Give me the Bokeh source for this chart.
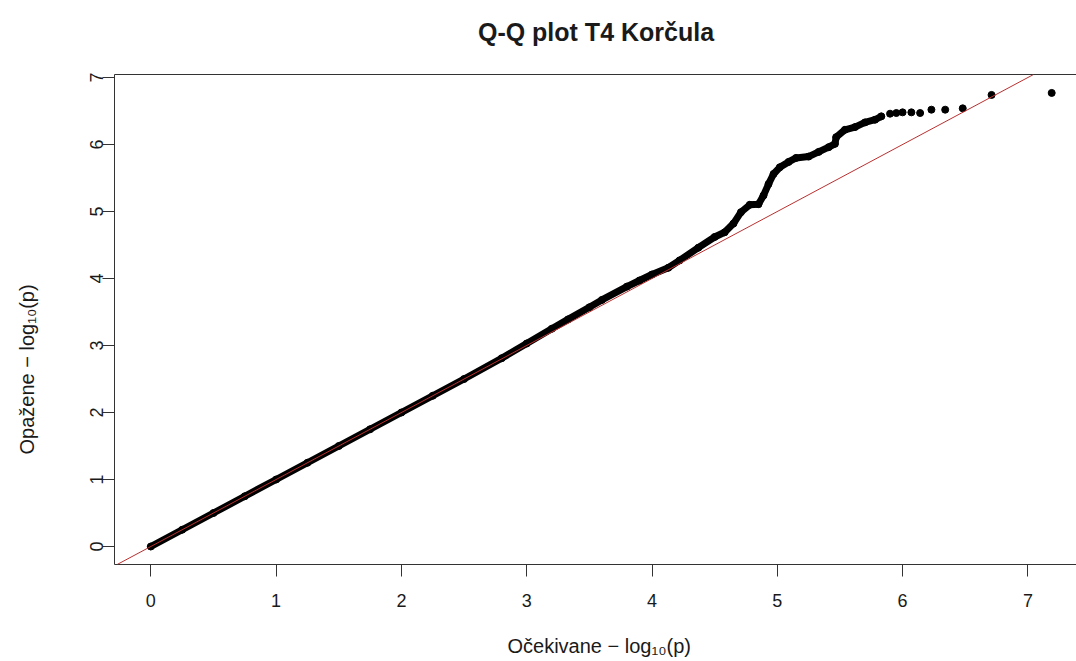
from bokeh.plotting import figure
from bokeh.models import (Slope, Title, FixedTicker, LinearAxis, Range1d,
                          ColumnDataSource)
from bokeh.embed import file_html
from bokeh.resources import INLINE

expected = [0.00, 0.25, 0.50, 0.75, 1.00, 1.25, 1.50, 1.75, 2.00, 2.25, 2.50,
            2.80, 3.00, 3.20, 3.33, 3.50, 3.60, 3.80, 3.90, 4.00, 4.13, 4.22,
            4.37, 4.50, 4.58, 4.65, 4.71, 4.78, 4.85, 4.89, 4.93, 4.97, 5.02,
            5.09, 5.15, 5.25, 5.33, 5.41, 5.46, 5.47, 5.54, 5.62, 5.70, 5.78,
            5.83, 5.90, 5.95, 6.00, 6.07, 6.14, 6.23, 6.34, 6.48, 6.71, 7.19]
observed = [0.00, 0.25, 0.50, 0.75, 1.00, 1.25, 1.50, 1.75, 2.00, 2.25, 2.50,
            2.81, 3.03, 3.25, 3.39, 3.57, 3.68, 3.88, 3.97, 4.06, 4.16, 4.27,
            4.46, 4.62, 4.69, 4.82, 4.99, 5.10, 5.11, 5.24, 5.41, 5.56, 5.66,
            5.74, 5.80, 5.82, 5.89, 5.96, 6.01, 6.11, 6.22, 6.26, 6.33, 6.37,
            6.42, 6.46, 6.47, 6.48, 6.48, 6.47, 6.52, 6.52, 6.54, 6.74, 6.77]
dense_limit = 5.83          # up to here the points overlap into a solid band
x_ticks = [0, 1, 2, 3, 4, 5, 6, 7]
y_ticks = [0, 1, 2, 3, 4, 5, 6, 7]

title_text = "Q-Q plot T4 Korčula"
x_title = "Očekivane \u2212 log\u2081\u2080(p)"
y_title = "Opažene \u2212 log\u2081\u2080(p)"

FONT = "Liberation Sans"
INK = "#1a1a1a"
BOX = "#333333"

src = ColumnDataSource(dict(x=expected, y=observed))
band = ColumnDataSource(dict(
    x=[e for e in expected if e <= dense_limit],
    y=[o for e, o in zip(expected, observed) if e <= dense_limit]))

p = figure(frame_width=963, frame_height=490,
           x_range=Range1d(-0.29, 7.396), y_range=Range1d(-0.2687, 7.045),
           output_backend="svg", toolbar_location=None,
           min_border_left=113, min_border_right=0,
           min_border_top=74, min_border_bottom=97,
           outline_line_color=None, background_fill_color="white",
           border_fill_color="white")
p.grid.visible = False

# title
p.title.text = title_text
p.title.align = "center"
p.title.text_font = FONT
p.title.text_font_style = "bold"
p.title.text_font_size = "25px"
p.title.text_color = INK
p.title.standoff = 30

# axes
for ax, ticks in ((p.xaxis[0], x_ticks), (p.yaxis[0], y_ticks)):
    ax.ticker = FixedTicker(ticks=ticks)
    ax.minor_tick_line_color = None
    ax.major_tick_in = 0
    ax.major_tick_out = 12
    ax.major_tick_line_color = BOX
    ax.axis_line_color = BOX
    ax.major_label_text_font = FONT
    ax.major_label_text_font_size = "18px"
    ax.major_label_text_color = INK
p.xaxis[0].major_label_standoff = 17
p.yaxis[0].major_label_standoff = -1
p.yaxis[0].major_label_orientation = "parallel"
# blank axis labels only reserve room so the titles can sit further out
p.yaxis[0].axis_label = " "
p.yaxis[0].axis_label_text_font_size = "20px"
p.yaxis[0].axis_label_standoff = 12
p.xaxis[0].axis_label = " "
p.xaxis[0].axis_label_text_font_size = "18px"
p.xaxis[0].axis_label_standoff = 0

top = LinearAxis(ticker=FixedTicker(ticks=[]), major_tick_out=0,
                 major_tick_in=0, minor_tick_line_color=None,
                 axis_line_color=BOX, major_label_text_alpha=0,
                 axis_label=" ", axis_label_text_font_size="10px",
                 axis_label_standoff=0)
p.add_layout(top, "above")

# axis titles
p.add_layout(Title(text=x_title, align="left", offset=393, standoff=0,
                   text_font=FONT, text_font_size="20px",
                   text_font_style="normal", text_color=INK), "below")
p.add_layout(Title(text=y_title, align="left", offset=110, standoff=26,
                   text_font=FONT, text_font_size="20px",
                   text_font_style="normal", text_color=INK), "left")

# points
p.line("x", "y", source=band, line_color="black", line_width=7,
       line_cap="round", line_join="round")
p.scatter("x", "y", source=src, size=7, fill_color="black",
          line_color="black")

# reference y = x line
p.add_layout(Slope(gradient=1, y_intercept=0, line_color="#b83030",
                   line_width=1))

open("out.html", "w").write(file_html(p, INLINE))
